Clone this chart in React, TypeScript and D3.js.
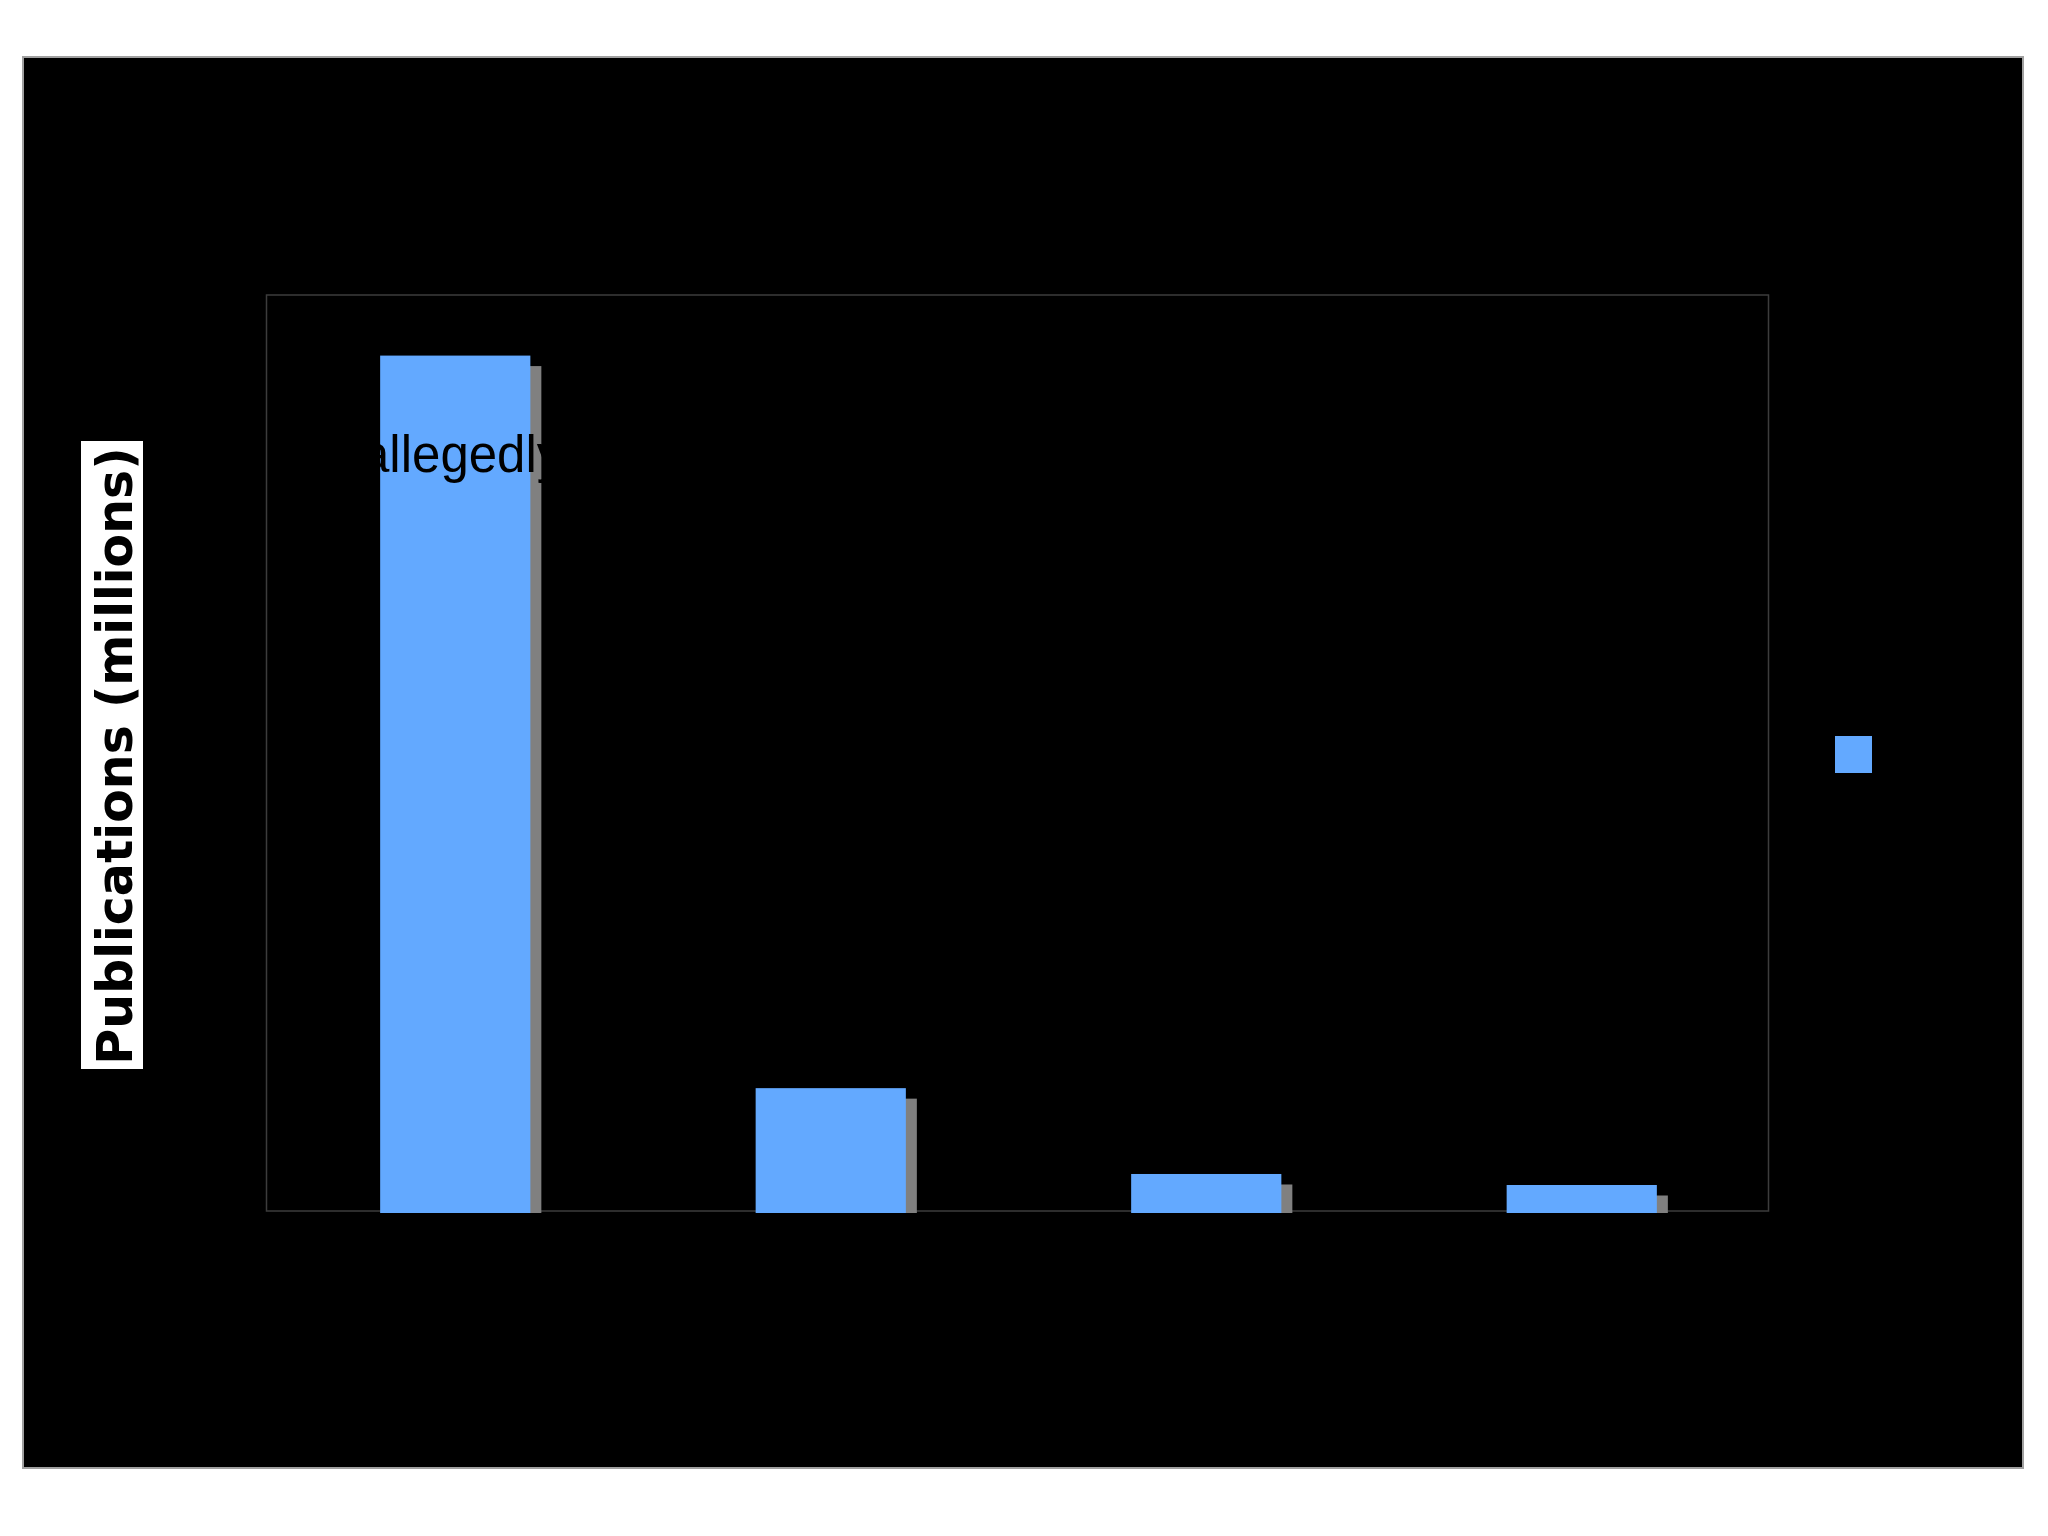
import React from "react";
import * as d3 from "d3";

const categories: string[] = ["Category 1", "Category 2", "Category 3", "Category 4"];
const publications: number[] = [93.4, 13.6, 4.25, 3.05];
const yDomainMax = 100;
const yAxisTitle = "Publications (millions)";
const annotationText = "allegedly";

const W = 2048;
const H = 1536;

export default function App() {
  const frame = { x: 23, y: 57, w: 2000, h: 1411 };
  const plot = { left: 266.5, right: 1768.5, top: 295, bottom: 1211 };

  const x = d3.scaleBand<string>().domain(categories).range([plot.left + 1, plot.right + 1]).padding(0);
  const y = d3.scaleLinear().domain([0, yDomainMax]).range([plot.bottom + 2, plot.top]);

  const barW = x.bandwidth() * 0.4;
  const shadowDx = 11;
  const shadowDy = 10.5;

  return (
    <svg
      width={W}
      height={H}
      viewBox={`0 0 ${W} ${H}`}
      style={{ position: "absolute", left: 0, top: 0, display: "block" }}
    >
      <rect x={0} y={0} width={W} height={H} fill="#ffffff" />
      <rect
        x={frame.x}
        y={frame.y}
        width={frame.w}
        height={frame.h}
        fill="#000000"
        stroke="#a0a0a0"
        strokeWidth={2}
      />
      {/* plot frame */}
      <rect
        x={plot.left}
        y={plot.top}
        width={plot.right - plot.left}
        height={plot.bottom - plot.top}
        fill="none"
        stroke="#3c3c3c"
        strokeWidth={1.5}
      />
      {/* shadows */}
      {categories.map((c, i) => {
        const bx = (x(c) as number) + (x.bandwidth() - barW) / 2;
        const top = y(publications[i]);
        return (
          <rect
            key={"s" + c}
            x={bx + shadowDx}
            y={top + shadowDy}
            width={barW}
            height={y(0) - top - shadowDy}
            fill="#808080"
          />
        );
      })}
      {/* bars */}
      {categories.map((c, i) => {
        const bx = (x(c) as number) + (x.bandwidth() - barW) / 2;
        const top = y(publications[i]);
        return (
          <rect
            key={"b" + c}
            x={bx}
            y={top}
            width={barW}
            height={y(0) - top}
            fill="#63a9ff"
          />
        );
      })}
      {/* annotation */}
      <text
        x={361}
        y={471.5}
        fontFamily="'Liberation Sans', Arial, sans-serif"
        fontSize={51}
        fill="#000000"
      >
        {annotationText}
      </text>
      {/* y axis title */}
      <rect x={81} y={441} width={62} height={628} fill="#ffffff" />
      <text
        transform={`translate(132, 756) rotate(-90)`}
        textAnchor="middle"
        fontFamily="'DejaVu Sans', sans-serif"
        fontWeight="bold"
        fontSize={49}
        fill="#000000"
      >
        {yAxisTitle}
      </text>
      {/* legend swatch */}
      <rect x={1835} y={736} width={37} height={37} fill="#63a9ff" />
    </svg>
  );
}
